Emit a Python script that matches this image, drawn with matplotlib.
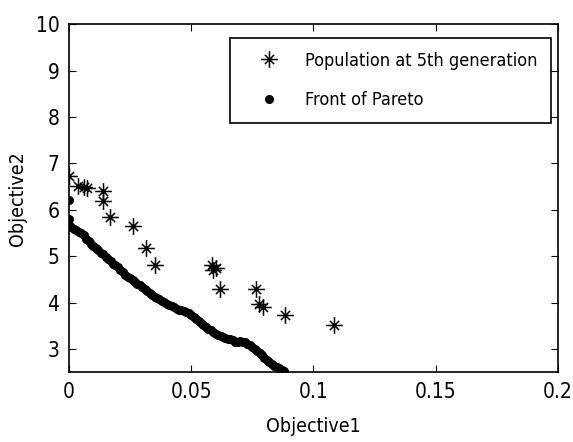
import numpy as np
import matplotlib
matplotlib.use("Agg")
import matplotlib.pyplot as plt
from matplotlib.path import Path

plt.rcParams['font.family'] = ['DejaVu Sans']
plt.rcParams['font.stretch'] = 'condensed'

# population at 5th generation
pop_x = [0.0, 0.0038, 0.006, 0.0075, 0.0138, 0.0141, 0.0168, 0.0261, 0.0314, 0.035,
         0.0585, 0.059, 0.060, 0.0619, 0.0765, 0.0779, 0.0794, 0.0885, 0.1086]
pop_y = [6.74, 6.52, 6.50, 6.48, 6.40, 6.18, 5.85, 5.65, 5.17, 4.80,
         4.80, 4.70, 4.75, 4.30, 4.30, 3.98, 3.91, 3.73, 3.51]

# front of pareto
front_x = [0.0, 0.0, 0.000, 0.001, 0.002, 0.003, 0.004, 0.005, 0.006, 0.007, 0.008, 0.009,
           0.010, 0.011, 0.012, 0.013, 0.014, 0.015, 0.016, 0.017, 0.018, 0.019,
           0.020, 0.021, 0.022, 0.023, 0.024, 0.025, 0.026, 0.027, 0.028, 0.029,
           0.030, 0.031, 0.032, 0.033, 0.034, 0.035, 0.036, 0.037, 0.038, 0.039,
           0.040, 0.041, 0.042, 0.043, 0.044, 0.045, 0.046, 0.047, 0.048, 0.049,
           0.050, 0.051, 0.052, 0.053, 0.054, 0.055, 0.056, 0.057, 0.058, 0.059,
           0.060, 0.061, 0.062, 0.063, 0.064, 0.065, 0.066, 0.067, 0.068, 0.069,
           0.070, 0.071, 0.072, 0.073, 0.074, 0.075, 0.076, 0.077, 0.078, 0.079,
           0.080, 0.081, 0.082, 0.083, 0.084, 0.085, 0.086, 0.087, 0.088]
front_y = [6.22, 5.80, 5.68, 5.62, 5.58, 5.56, 5.53, 5.50, 5.45, 5.38, 5.32, 5.27,
           5.22, 5.18, 5.13, 5.08, 5.04, 4.99, 4.94, 4.89, 4.84, 4.80,
           4.76, 4.71, 4.66, 4.60, 4.56, 4.52, 4.48, 4.45, 4.41, 4.37,
           4.33, 4.29, 4.25, 4.21, 4.17, 4.13, 4.10, 4.07, 4.04, 4.01,
           3.98, 3.95, 3.92, 3.90, 3.87, 3.85, 3.84, 3.82, 3.80, 3.77,
           3.73, 3.69, 3.65, 3.60, 3.56, 3.52, 3.48, 3.44, 3.40, 3.36,
           3.33, 3.30, 3.28, 3.26, 3.24, 3.22, 3.21, 3.19, 3.16, 3.14,
           3.17, 3.16, 3.14, 3.11, 3.08, 3.04, 3.00, 2.96, 2.91, 2.86,
           2.81, 2.76, 2.72, 2.68, 2.64, 2.61, 2.58, 2.55, 2.53]

xticks = [0, 0.05, 0.1, 0.15, 0.2]
xtick_labels = ['0', '0.05', '0.1', '0.15', '0.2']
yticks = [3, 4, 5, 6, 7, 8, 9, 10]

# matlab-like asterisk: long plus, shorter diagonals
d = 0.55
star = Path([(0, -1), (0, 1), (-1, 0), (1, 0), (-d, -d), (d, d), (-d, d), (d, -d)],
            [Path.MOVETO, Path.LINETO] * 4)

fig = plt.figure(figsize=(5.73, 4.42), dpi=100)
ax = fig.add_axes([0.1204, 0.158, 0.853, 0.787])

ax.plot(pop_x, pop_y, linestyle='none', marker=star, markersize=12,
        markeredgewidth=1.1, color='black', label='Population at 5th generation')
ax.plot(front_x, front_y, linestyle='none', marker='.', markersize=11,
        color='black', label='Front of Pareto')

ax.set_xlim(0, 0.2)
ax.set_ylim(2.5, 10)
ax.set_xticks(xticks)
ax.set_xticklabels(xtick_labels)
ax.set_yticks(yticks)
ax.tick_params(direction='in', top=True, right=True, length=5, labelsize=15, pad=7)
for s in ax.spines.values():
    s.set_linewidth(1.2)

ax.set_xlabel('Objective1', fontsize=14, labelpad=11)
ax.set_ylabel('Objective2', fontsize=14, labelpad=6)

leg = ax.legend(loc='upper right', bbox_to_anchor=(551 / 573, 1 - 38 / 442),
                bbox_transform=fig.transFigure, fontsize=13, fancybox=False,
                edgecolor='black', framealpha=1, borderaxespad=0, handletextpad=0.6,
                borderpad=0.75, labelspacing=1.2, handlelength=2.8)
leg.get_frame().set_linewidth(1.2)

fig.savefig('out.png', dpi=100)
